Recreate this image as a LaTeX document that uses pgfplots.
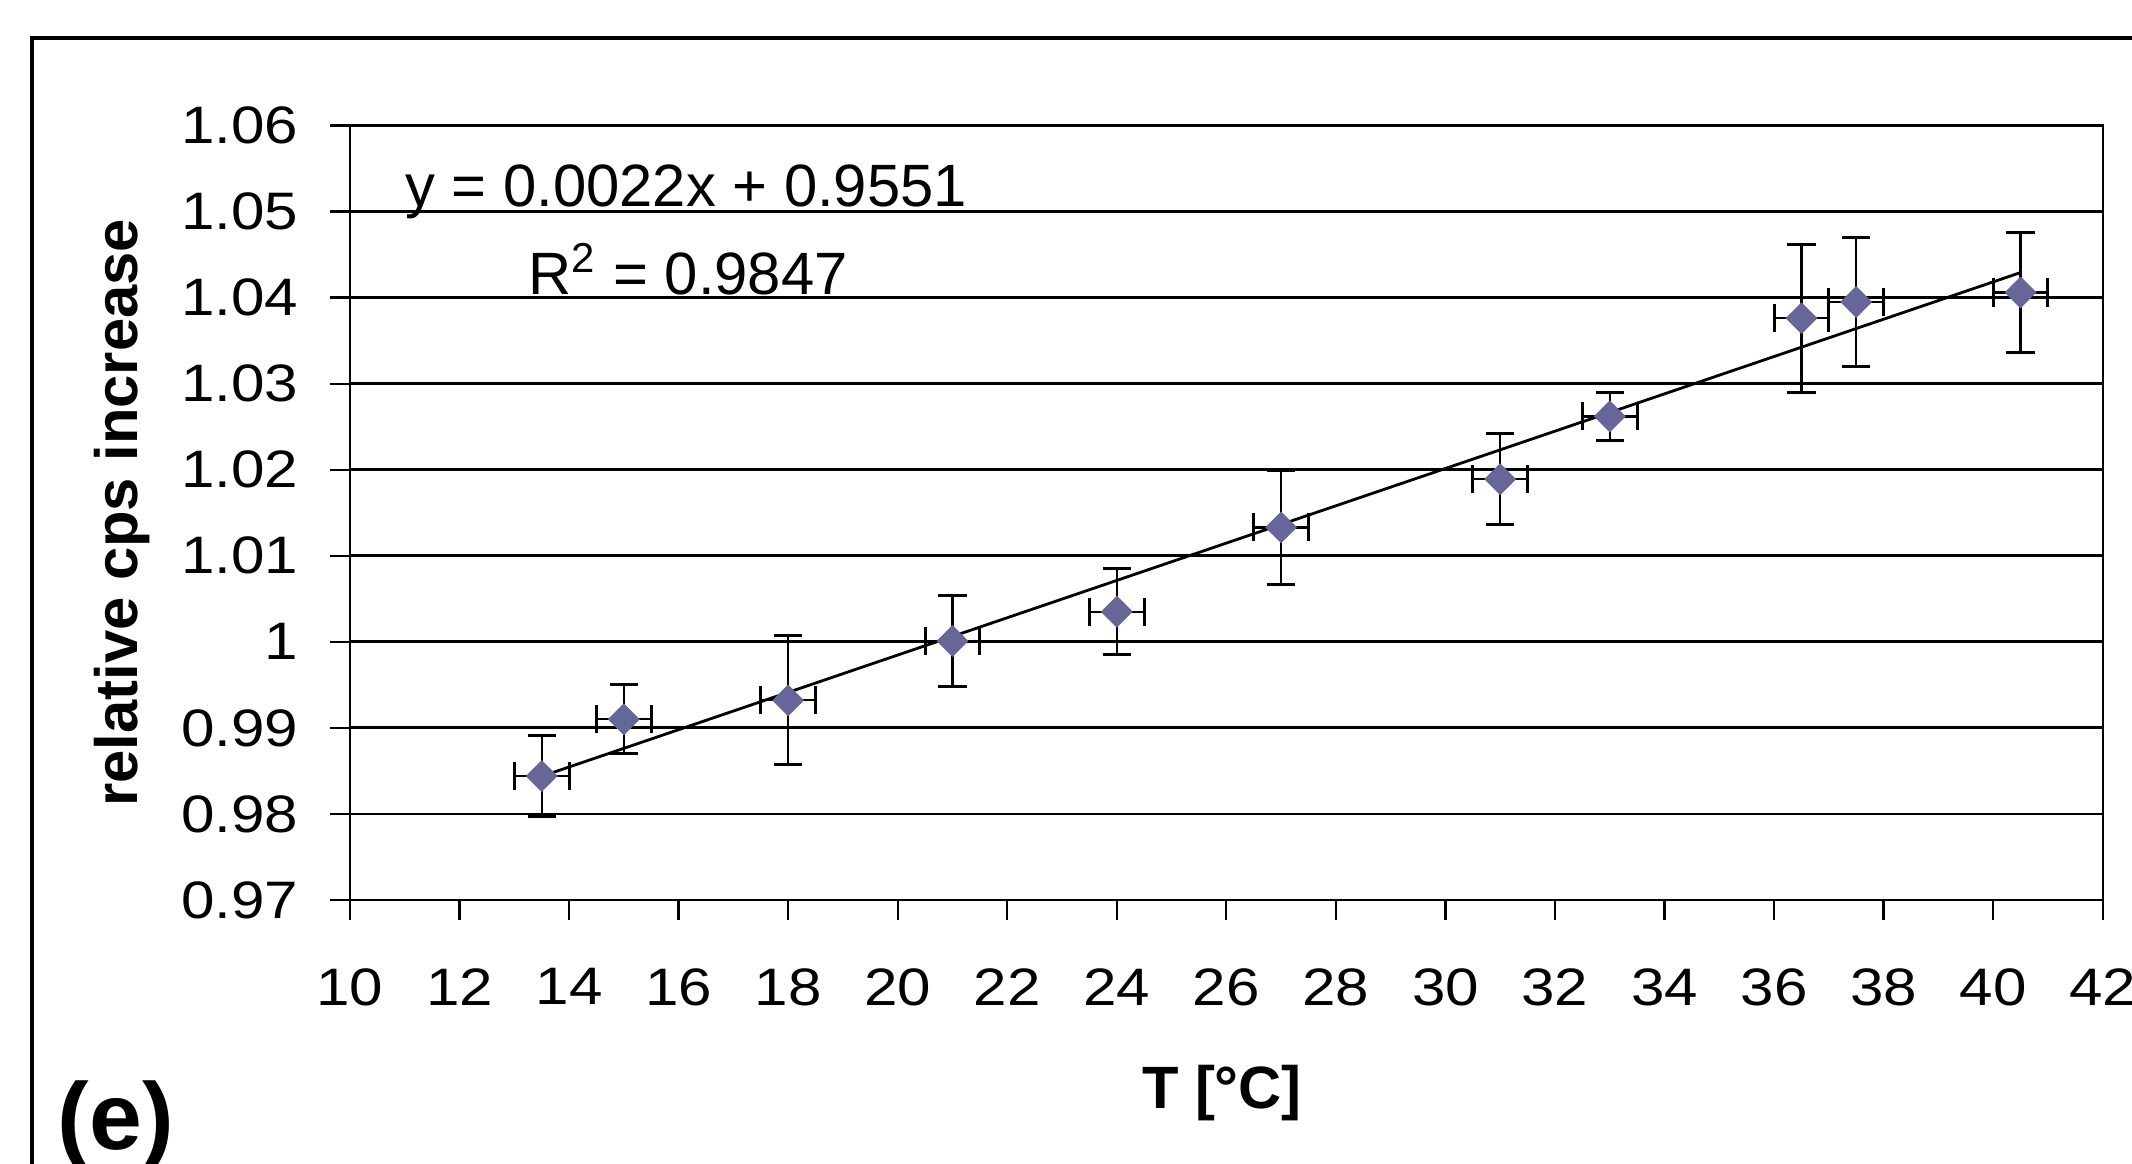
\documentclass[border=0pt]{standalone}
\usepackage{pgfplots}
\pgfplotsset{compat=1.18}
\usepackage{fontspec}
\setmainfont{Liberation Sans}
\newfontfamily\tickfont[FakeStretch=1.14]{Liberation Sans}
\definecolor{mk}{HTML}{666699}
\begin{document}
\begin{tikzpicture}
\useasboundingbox (0,0) rectangle (213.2mm,116.4mm);
\draw[line width=1.1pt] (3.2mm,-2mm) -- (3.2mm,112.6mm) -- (216mm,112.6mm);
\begin{axis}[
  at={(35.0mm,26.4mm)}, anchor=south west,
  scale only axis, width=175.27mm, height=77.45mm,
  xmin=10, xmax=42, ymin=0.97, ymax=1.06,
  xtick={10,12,...,42},
  ytick={0.97,0.98,0.99,1,1.01,1.02,1.03,1.04,1.05,1.06},
  tick align=outside, major tick length=2mm,
  xtick pos=bottom, ytick pos=left,
  tick style={black, line width=0.65pt},
  axis line style={line width=0.65pt},
  ymajorgrids, grid style={black, line width=0.8pt},
  /pgf/number format/assume math mode=true,
  yticklabel style={/pgf/number format/fixed, /pgf/number format/precision=2},
  ticklabel style={font=\fontsize{15}{18}\selectfont\tickfont, inner sep=0pt},
  xticklabel style={anchor=north, yshift=-4.8mm},
  yticklabel style={anchor=east, xshift=-3.1mm},
  xlabel={T [°C]}, ylabel={relative cps increase},
  label style={font=\fontsize{17}{20}\selectfont\bfseries},
  xlabel style={at={(axis description cs:0.4975,-0.249)}, anchor=center},
  ylabel style={at={(axis description cs:-0.130,0.5)}, anchor=center, rotate=0},
  clip=false,
]
\addplot[black, line width=0.8pt] coordinates {(13.5,0.98437) (40.5,1.04291)};
\addplot[only marks, mark=square*, mark size=3pt, mark options={rotate=45, fill=mk, draw=mk},
  error bars/.cd, x dir=both, y dir=both, x explicit, y explicit,
  error bar style={black, line width=0.65pt},
  error mark=|,
  error mark options={black, mark size=4pt, line width=0.85pt}]
  coordinates {
  (13.5,0.9844) +- (0.5,0.0047)
  (15.0,0.9910) +- (0.5,0.0040)
  (18.0,0.9932) +- (0.5,0.0075)
  (21.0,1.0001) +- (0.5,0.00525)
  (24.0,1.0035) +- (0.5,0.0050)
  (27.0,1.0133) +- (0.5,0.0066)
  (31.0,1.0189) +- (0.5,0.0053)
  (33.0,1.0262) +- (0.5,0.0028)
  (36.5,1.0376) +- (0.5,0.0086)
  (37.5,1.0395) +- (0.5,0.0075)
  (40.5,1.0406) +- (0.5,0.0070)
  };
\node[anchor=base west, inner sep=0pt, font=\fontsize{17}{20}\selectfont] at (axis cs:11.0,1.05053) {y = 0.0022x + 0.9551};
\node[anchor=base west, inner sep=0pt, font=\fontsize{17}{20}\selectfont] at (axis cs:13.25,1.04034) {R\textsuperscript{2} = 0.9847};
\end{axis}
\node[anchor=base west, inner sep=0pt, font=\fontsize{27}{30}\selectfont\bfseries] at (5.7mm,1.4mm) {(e)};
\end{tikzpicture}
\end{document}
